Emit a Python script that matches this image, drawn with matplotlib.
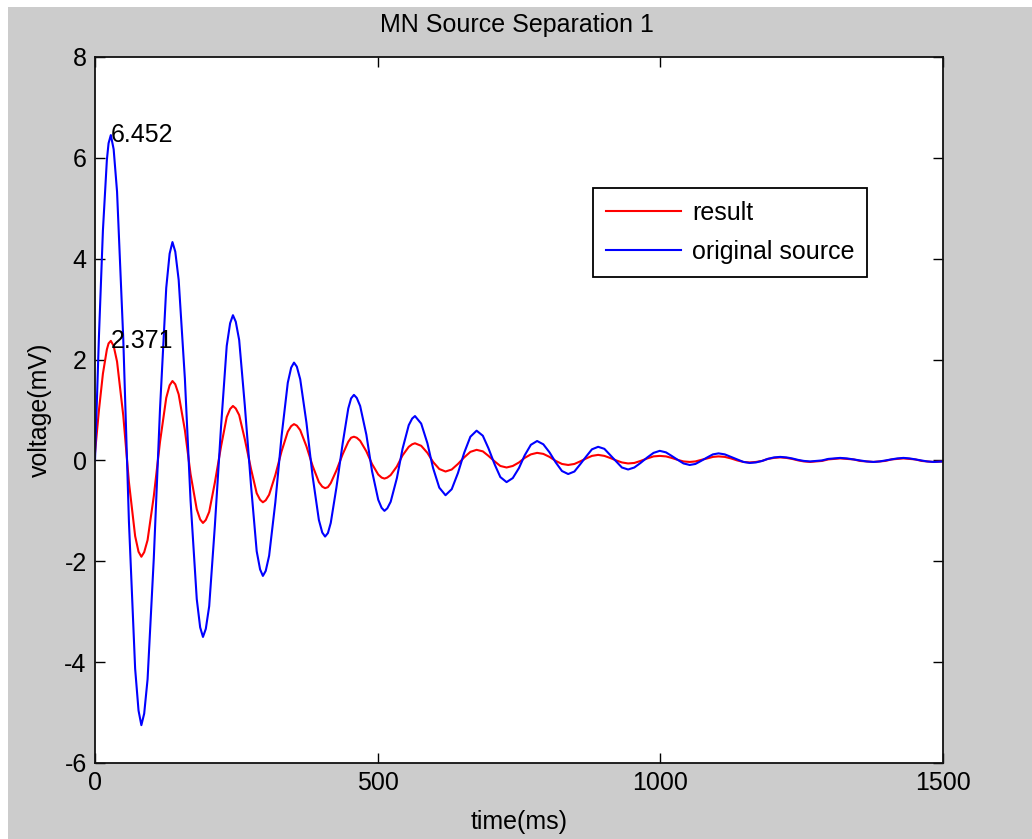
import matplotlib
matplotlib.use("Agg")
import matplotlib.pyplot as plt
from matplotlib.patches import Rectangle

plt.rcParams["font.family"] = ["Liberation Sans", "DejaVu Sans"]
plt.rcParams["axes.unicode_minus"] = False

# Sample times (ms)
time_ms = [0, 7, 14, 21, 24,
           28, 33, 39, 50, 60, 71, 77,
           82, 87, 93, 104, 115, 126, 132,
           137, 142, 148, 159, 169, 180, 186,
           191, 196, 202, 212, 223, 233, 239,
           244, 249, 255, 265, 276, 286, 292,
           297, 302, 308, 319, 330, 341, 347,
           352, 357, 363, 374, 385, 396, 402,
           407, 412, 417, 427, 438, 448, 453,
           458, 463, 469, 480, 490, 501, 507,
           512, 517, 523, 534, 544, 555, 561,
           566, 577, 588, 598, 609,
           620, 631, 642, 653, 664,
           675, 686, 696, 707, 717,
           728, 739, 750, 760, 771,
           782, 793, 804, 815, 826,
           837, 848, 858, 869, 879,
           890, 901, 911, 922, 932,
           943, 954, 965, 977, 988,
           999, 1010, 1020, 1031, 1041,
           1052, 1062, 1072, 1083, 1093,
           1103, 1114, 1125, 1136, 1147,
           1158, 1169, 1180, 1190, 1201,
           1212, 1223, 1233, 1244, 1254,
           1265, 1276, 1286, 1297, 1307,
           1318, 1330, 1342, 1353, 1365,
           1377, 1388, 1398, 1409, 1419,
           1430, 1441, 1451, 1462, 1472,
           1483, 1500]

# Separated signal (mV)
result = [0.15, 1.00, 1.72, 2.20, 2.32,
          2.371, 2.27, 1.96, 0.89, -0.43, -1.50, -1.81,
          -1.91, -1.82, -1.58, -0.71, 0.37, 1.24, 1.49,
          1.575, 1.51, 1.31, 0.60, -0.27, -0.97, -1.17,
          -1.24, -1.18, -1.02, -0.44, 0.28, 0.86, 1.02,
          1.08, 1.03, 0.90, 0.42, -0.17, -0.65, -0.78,
          -0.83, -0.79, -0.68, -0.29, 0.18, 0.57, 0.68,
          0.72, 0.69, 0.60, 0.28, -0.11, -0.43, -0.52,
          -0.55, -0.53, -0.45, -0.20, 0.12, 0.37, 0.45,
          0.47, 0.45, 0.39, 0.18, -0.07, -0.28, -0.34,
          -0.36, -0.34, -0.29, -0.12, 0.10, 0.27, 0.32,
          0.34, 0.29, 0.15, -0.03, -0.17,
          -0.22, -0.18, -0.07, 0.06, 0.17,
          0.21, 0.18, 0.09, -0.02, -0.11,
          -0.14, -0.11, -0.04, 0.05, 0.12,
          0.15, 0.13, 0.07, -0.01, -0.07,
          -0.09, -0.07, -0.02, 0.04, 0.09,
          0.11, 0.09, 0.05, 0.00, -0.04,
          -0.06, -0.05, -0.01, 0.04, 0.08,
          0.09, 0.08, 0.05, 0.01, -0.02,
          -0.03, -0.02, 0.01, 0.04, 0.07,
          0.08, 0.07, 0.04, 0.00, -0.03,
          -0.04, -0.03, -0.01, 0.03, 0.05,
          0.06, 0.05, 0.03, 0.00, -0.02,
          -0.03, -0.02, -0.01, 0.02, 0.03,
          0.04, 0.03, 0.02, -0.01, -0.02,
          -0.03, -0.02, -0.01, 0.02, 0.03,
          0.04, 0.03, 0.02, -0.01, -0.02,
          -0.03, -0.02]

# Original source signal (mV)
original_source = [0.0, 2.47, 4.56, 5.96, 6.29,
                   6.452, 6.17, 5.33, 2.41, -1.21, -4.13, -4.96,
                   -5.25, -5.02, -4.34, -1.94, 1.02, 3.42, 4.10,
                   4.33, 4.14, 3.58, 1.62, -0.79, -2.75, -3.31,
                   -3.50, -3.34, -2.89, -1.30, 0.68, 2.27, 2.72,
                   2.88, 2.75, 2.39, 1.09, -0.50, -1.80, -2.16,
                   -2.29, -2.19, -1.89, -0.83, 0.48, 1.54, 1.84,
                   1.94, 1.86, 1.61, 0.75, -0.32, -1.18, -1.43,
                   -1.51, -1.44, -1.24, -0.54, 0.33, 1.03, 1.23,
                   1.30, 1.24, 1.08, 0.51, -0.21, -0.78, -0.94,
                   -1.00, -0.95, -0.82, -0.35, 0.23, 0.70, 0.83,
                   0.88, 0.73, 0.34, -0.15, -0.54,
                   -0.69, -0.57, -0.25, 0.15, 0.47,
                   0.59, 0.49, 0.24, -0.08, -0.33,
                   -0.43, -0.35, -0.15, 0.10, 0.31,
                   0.385, 0.32, 0.16, -0.04, -0.21,
                   -0.27, -0.22, -0.08, 0.08, 0.22,
                   0.27, 0.23, 0.11, -0.02, -0.14,
                   -0.18, -0.14, -0.05, 0.06, 0.15,
                   0.19, 0.16, 0.09, 0.01, -0.06,
                   -0.09, -0.07, -0.01, 0.06, 0.12,
                   0.14, 0.12, 0.07, 0.02, -0.03,
                   -0.05, -0.04, -0.01, 0.03, 0.06,
                   0.07, 0.06, 0.04, 0.01, -0.01,
                   -0.02, -0.01, 0.00, 0.03, 0.04,
                   0.05, 0.04, 0.02, 0.00, -0.02,
                   -0.03, -0.02, 0.00, 0.02, 0.04,
                   0.05, 0.04, 0.02, 0.00, -0.02,
                   -0.03, -0.02]

# Peak annotations: (time, value)
peak_source = (28, 6.452)
peak_result = (28, 2.371)

x_ticks = [0, 500, 1000, 1500]
y_ticks = [-6, -4, -2, 0, 2, 4, 6, 8]

W, H = 1032, 839
fig = plt.figure(figsize=(W / 100, H / 100), dpi=100, facecolor="white")
fig.patches.append(Rectangle((8 / W, 0), 1, 1 - 7 / H, transform=fig.transFigure,
                             facecolor="#cccccc", edgecolor="none", zorder=-10))
ax = fig.add_axes([95 / W, 1 - 763 / H, 848 / W, 706 / H])

ax.plot(time_ms, result, color="red", lw=1.5, label="result")
ax.plot(time_ms, original_source, color="blue", lw=1.5, label="original source")

ax.set_xlim(0, 1500)
ax.set_ylim(-6, 8)
ax.set_xticks(x_ticks)
ax.set_yticks(y_ticks)
ax.tick_params(direction="in", length=7, width=1, top=True, right=True,
               labelsize=18, pad=6)
for sp in ax.spines.values():
    sp.set_linewidth(1.3)
    sp.set_color("#111111")

for t, v in (peak_source, peak_result):
    ax.text(t, v, f"{v:.3f}", fontsize=18, ha="left", va="center")

ax.set_xlabel("time(ms)", fontsize=18)
ax.xaxis.set_label_coords(0.5, (763 - 822) / 706)
ax.xaxis.label.set_va("center")
ax.set_ylabel("voltage(mV)", fontsize=18)
ax.yaxis.set_label_coords((40 - 95) / 848, 0.5)
ax.yaxis.label.set_va("center")
fig.text(517 / W, 1 - 25 / H, "MN Source Separation 1", fontsize=18,
         ha="center", va="center")

leg = ax.legend(loc="upper left", bbox_to_anchor=((593 - 95) / 848, (763 - 188) / 706),
                fontsize=18, fancybox=False, edgecolor="black", framealpha=1,
                handlelength=3.0, handletextpad=0.45, borderpad=0.5,
                labelspacing=0.62, borderaxespad=0)
leg.get_frame().set_linewidth(1.3)

fig.savefig("out.png", dpi=100, facecolor="white")
